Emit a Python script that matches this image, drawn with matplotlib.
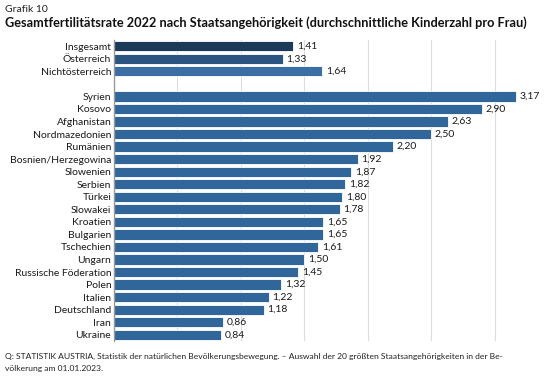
import matplotlib.pyplot as plt

plt.rcParams['font.family'] = ['Lato', 'DejaVu Sans']

# data
top_labels = ["Insgesamt", "Österreich", "Nichtösterreich"]
top_values = [1.41, 1.33, 1.64]
top_colors = ["#1b3a57", "#2b5580", "#3a6ea5"]

countries = ["Syrien", "Kosovo", "Afghanistan", "Nordmazedonien", "Rumänien",
             "Bosnien/Herzegowina", "Slowenien", "Serbien", "Türkei", "Slowakei",
             "Kroatien", "Bulgarien", "Tschechien", "Ungarn", "Russische Föderation",
             "Polen", "Italien", "Deutschland", "Iran", "Ukraine"]
country_values = [3.17, 2.90, 2.63, 2.50, 2.20, 1.92, 1.87, 1.82, 1.80, 1.78,
                  1.65, 1.65, 1.61, 1.50, 1.45, 1.32, 1.22, 1.18, 0.86, 0.84]
country_color = "#31669a"

labels = top_labels + [""] + countries
values = top_values + [None] + country_values
colors = top_colors + [None] + [country_color] * len(countries)

fig = plt.figure(figsize=(5.6, 3.84), dpi=100)
ax = fig.add_axes([114 / 560, 1 - 341 / 384, 444 / 560, 301 / 384])

ypos = list(range(len(labels)))
for y, v, c in zip(ypos, values, colors):
    if v is None:
        continue
    ax.barh(y, v, height=0.82, color=c, edgecolor="white", linewidth=0.6, zorder=2)
    ax.text(v + 0.03, y, f"{v:.2f}".replace(".", ","), va="center", ha="left",
            fontsize=7.5, color="#1a1a1a")

ax.set_yticks(ypos)
ax.set_yticklabels(labels, fontsize=7.5, color="#1a1a1a")
ax.set_ylim(len(labels) - 0.5, -0.5)
ax.set_xlim(0, 3.5)
ax.set_xticks([0.5, 1.0, 1.5, 2.0, 2.5, 3.0])
ax.tick_params(axis="x", length=0, labelbottom=False)
ax.tick_params(axis="y", length=0, pad=2)
ax.grid(axis="x", color="#dddddd", linewidth=0.8, zorder=0)
for s in ["top", "right", "bottom"]:
    ax.spines[s].set_visible(False)
ax.spines["left"].set_color("#999999")
ax.spines["left"].set_linewidth(1.0)

fig.text(5 / 560, 1 - 9 / 384, "Grafik 10", fontsize=7.5, va="center", ha="left", color="#222222")
fig.text(5 / 560, 1 - 23 / 384,
         "Gesamtfertilitätsrate 2022 nach Staatsangehörigkeit (durchschnittliche Kinderzahl pro Frau)",
         fontsize=9.2, fontweight="bold", va="center", ha="left", color="#111111")
fig.text(5 / 560, 1 - 356 / 384,
         "Q: STATISTIK AUSTRIA, Statistik der natürlichen Bevölkerungsbewegung. – Auswahl der 20 größten Staatsangehörigkeiten in der Be-",
         fontsize=6.1, va="center", ha="left", color="#222222")
fig.text(5 / 560, 1 - 368 / 384, "völkerung am 01.01.2023.",
         fontsize=6.1, va="center", ha="left", color="#222222")

plt.savefig("out.png", dpi=100)
